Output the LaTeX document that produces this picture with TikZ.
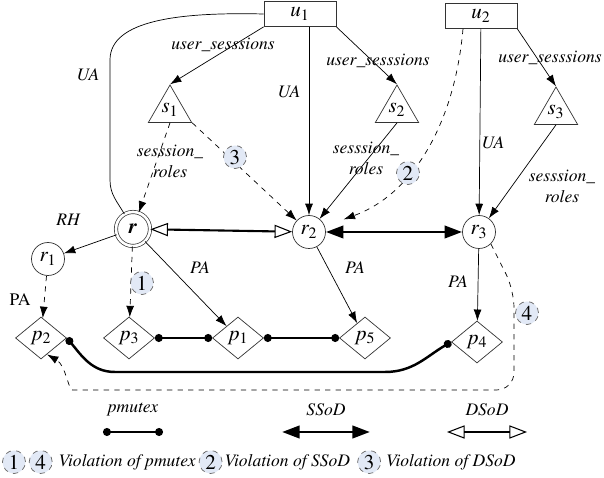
\documentclass[tikz,border=0pt]{standalone}
\usepackage[T1]{fontenc}
\usepackage{mathptmx}
\usepackage{tikz}
\usetikzlibrary{arrows.meta,shapes.geometric,positioning}
\definecolor{viofill}{RGB}{226,233,246}
\tikzstyle{user} = [draw=black!80, rectangle, minimum height=0.5cm, minimum width=1.44cm, font=\large]
\tikzstyle{sess} = [draw=black!80, regular polygon, regular polygon sides=3, minimum size=1.0cm, inner sep=0pt, font=\large]
\tikzstyle{role} = [draw=black!80, circle, minimum size=0.66cm, inner sep=0pt, font=\large]
\tikzstyle{perm} = [draw=black!80, diamond, minimum width=1.02cm, minimum height=0.84cm, inner sep=0pt, font=\large]
\tikzstyle{vio} = [draw=black!60, dashed, circle, fill=viofill, minimum size=0.46cm, inner sep=0pt, font=\large]
\tikzstyle{lbl} = [font=\itshape, inner sep=1pt]
\tikzstyle{viol} = [dashed]
\tikzstyle{pmutex} = [line width=1.4pt, {Circle[length=4.5pt]}-{Circle[length=4.5pt]}]
\tikzstyle{ssod} = [line width=1.7pt, {Triangle[length=10pt,width=7pt]}-{Triangle[length=10pt,width=7pt]}]
\tikzstyle{dsod} = [line width=1.2pt, {Triangle[open,line width=0.6pt,length=10pt,width=7.5pt]}-{Triangle[open,line width=0.6pt,length=10pt,width=7.5pt]}]

\begin{document}
\begin{tikzpicture}[auto, node distance=1.8cm, >={Latex[length=6.5pt,width=4.5pt]}, thin]
\useasboundingbox (0,0) rectangle (12.08,-9.56);

% users and sessions
\node [user] (u1) at (6.00,-0.28) {$u_1$};
\node [user] (u2) at (9.62,-0.32) {$u_2$};
\node [sess] (s1) at (3.40,-2.20) {$s_1$};
\node [sess] (s2) at (7.94,-2.20) {$s_2$};
\node [sess] (s3) at (11.12,-2.24) {$s_3$};

% roles
\node [role, double, double distance=1.5pt, minimum size=0.68cm] (r) at (2.66,-4.58) {\textbf{\textit{r}}};
\node [role] (r1) at (0.96,-5.18) {$r_1$};
\node [role] (r2) at (6.18,-4.64) {$r_2$};
\node [role] (r3) at (9.58,-4.64) {$r_3$};

% permissions
\node [perm] (p2) at (0.82,-6.76) {$p_2$};
\node [perm] (p3) at (2.58,-6.76) {$p_3$};
\node [perm] (p1) at (4.76,-6.76) {$p_1$};
\node [perm] (p5) at (7.30,-6.76) {$p_5$};
\node [perm] (p4) at (9.54,-6.84) {$p_4$};

% user assignment and sessions
\draw [->] (u1.south west) -- (s1.corner 1);
\draw [->] (u1.south east) -- (s2.corner 1);
\draw [->] (u1.south -| r2) -- (r2);
\draw (u1.west) .. controls (3.6,-0.24) and (2.2,-0.4) .. (2.2,-1.2) -- (2.2,-3.6) to[out=-90,in=120] (r.120);
\draw [->] (u2.south east) -- (s3.corner 1);
\draw [->] (u2) -- (r3);
\draw [viol,->] (s1.south) -- (r);
\draw [viol,->] (s1.corner 3) -- (r2);
\draw [->] (s2.south) -- (r2);
\draw [->] (s3.south) -- (r3);
\draw [viol,->,shorten >=0.4cm] ([xshift=-0.36cm]u2.south) to[out=-95,in=20] (r2);

% role hierarchy and constraints
\draw [->] (r) -- (r1);
\draw [dsod] (r) -- (r2);
\draw [ssod] (r2) -- (r3);

% permission assignment
\draw [viol,->] (r1) -- (p2);
\draw [viol,->] (r) -- (p3);
\draw [->] (r) -- (p1);
\draw [->] (r2) -- (p5);
\draw [->] (r3) -- (p4);
\draw [viol,->,rounded corners=0.35cm] (r3.-45) -- (10.28,-5.8) -- (10.28,-7.8) -- (1.8,-7.8) to[out=180,in=-30] (p2.-70);

% mutually exclusive permissions
\draw [pmutex] (p3.east) -- (p1.west);
\draw [pmutex] (p1.east) -- (p5.west);
\draw [pmutex] (p2.east) to[out=-50,in=180] (2.3,-7.44) -- (7.7,-7.44) to[out=0,in=-150] (p4.west);

% violations
\node [vio] (v1) at (2.84,-5.66) {1};
\node [vio] (v2) at (8.16,-3.46) {2};
\node [vio] (v3) at (4.70,-3.14) {3};
\node [vio] (v4) at (10.54,-6.26) {4};

% edge labels
\node [lbl] (us1) at (4.46,-0.90) {user\_sesssions};
\node [lbl] (us2) at (7.56,-1.22) {user\_sesssions};
\node [lbl] (us3) at (11.00,-1.16) {user\_sesssions};
\node [lbl] (ua1) at (1.76,-1.50) {UA};
\node [lbl] (ua2) at (5.78,-1.84) {UA};
\node [lbl] (ua3) at (9.86,-2.86) {UA};
\node [lbl,align=center] (sr1) at (3.40,-3.22) {sesssion\_\\roles};
\node [lbl,align=center] (sr2) at (7.32,-3.16) {sesssion\_\\roles};
\node [lbl,align=center] (sr3) at (11.24,-3.72) {sesssion\_\\roles};
\node [lbl] (rh) at (1.36,-4.40) {RH};
\node (pa0) at (0.40,-6.00) {PA};
\node [lbl] (pa1) at (4.00,-5.36) {PA};
\node [lbl] (pa2) at (7.10,-5.36) {PA};
\node [lbl] (pa3) at (9.16,-5.64) {PA};

% legend
\coordinate (pm1) at (2.06,-8.64);
\coordinate (pm2) at (3.26,-8.64);
\coordinate (ss1) at (5.64,-8.64);
\coordinate (ss2) at (7.40,-8.64);
\coordinate (ds1) at (8.94,-8.64);
\coordinate (ds2) at (10.54,-8.64);
\draw [pmutex] (pm1) -- (pm2);
\draw [ssod] (ss1) -- (ss2);
\draw [dsod] (ds1) -- (ds2);
\node [lbl] (lpm) at (2.66,-8.20) {pmutex};
\node [lbl] (lss) at (6.52,-8.20) {SSoD};
\node [lbl] (lds) at (9.74,-8.20) {DSoD};

\node [vio] (k1) at (0.28,-9.24) {1};
\node [vio,right=0.06cm of k1] (k4) {4};
\node [lbl,right=0.08cm of k4] (t1) {Violation of pmutex};
\node [vio,right=0.02cm of t1] (k2) {2};
\node [lbl,right=0.0cm of k2] (t2) {Violation of SSoD};
\node [vio,right=0.1cm of t2] (k3) {3};
\node [lbl,right=0.06cm of k3] (t3) {Violation of DSoD};
\end{tikzpicture}
\end{document}
